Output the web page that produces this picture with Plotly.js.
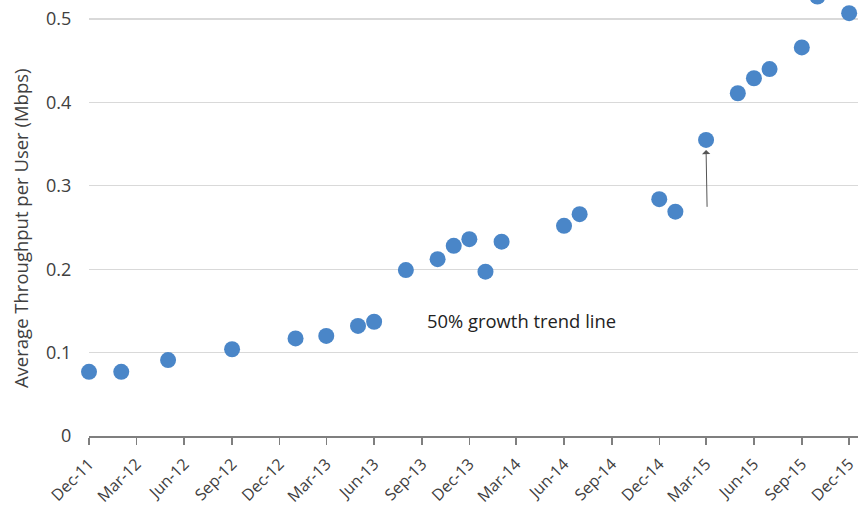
<!DOCTYPE html>
<html>
<head>
<meta charset="utf-8">
<script src="https://cdn.plot.ly/plotly-3.0.1.min.js"></script>
<style>html,body{margin:0;padding:0;background:#fff;overflow:hidden;}#chart{width:858px;height:532px;margin-top:-20px;}</style>
</head>
<body>
<div id="chart"></div>
<script>
const months = ["2011-12-01","2012-02-01","2012-05-01","2012-09-01","2013-01-01","2013-03-01","2013-05-01","2013-06-01","2013-08-01","2013-10-01","2013-11-01","2013-12-01","2014-01-01","2014-02-01","2014-06-01","2014-07-01","2014-12-01","2015-01-01","2015-03-01","2015-05-01","2015-06-01","2015-07-01","2015-09-01","2015-10-01","2015-12-01"];
const throughput = [0.077,0.077,0.091,0.104,0.117,0.120,0.132,0.137,0.199,0.212,0.228,0.236,0.197,0.233,0.252,0.266,0.284,0.269,0.355,0.411,0.429,0.440,0.466,0.527,0.507];
const annotationText = "50% growth trend line";
const yTitle = "Average Throughput per User (Mbps)";

const font = "Open Sans, Liberation Sans, sans-serif";
const data = [{
  x: months, y: throughput, type: "scatter", mode: "markers",
  marker: {color: "#4a86c8", size: 16},
  cliponaxis: false, hoverinfo: "skip"
}];
const layout = {
  width: 858, height: 532,
  margin: {l: 89, r: 0, t: 0, b: 76},
  paper_bgcolor: "#fff", plot_bgcolor: "#fff",
  showlegend: false,
  font: {family: font, color: "#404040", size: 16},
  xaxis: {
    type: "date", range: ["2011-12-01", "2015-12-18"],
    tickformat: "%b-%y", dtick: "M3", tick0: "2011-12-01",
    tickangle: -45, tickfont: {size: 16, color: "#404040"},
    ticklabeloverflow: "allow", ticklabelstandoff: 4,
    ticks: "outside", ticklen: 7, tickcolor: "#7f7f7f", tickwidth: 1.5,
    showline: true, linecolor: "#7f7f7f", linewidth: 1.5,
    showgrid: false, zeroline: false, automargin: false
  },
  yaxis: {
    range: [0, 0.5468], dtick: 0.1, tick0: 0,
    tickfont: {size: 18, color: "#404040"},
    ticks: "outside", ticklen: 13, tickcolor: "rgba(0,0,0,0)",
    showgrid: true, gridcolor: "#d9d9d9", gridwidth: 1.3,
    zeroline: false, showline: false, automargin: false
  },
  annotations: [
    {x: -0.0897, y: 0.456, xref: "paper", yref: "paper", text: yTitle, textangle: -90,
     showarrow: false, xanchor: "center", yanchor: "middle",
     font: {size: 18.5, color: "#404040"}},
    {x: "2014-03-12", y: 0.139, xref: "x", yref: "y", text: annotationText, showarrow: false,
     font: {size: 18.4, color: "#222"}},
    {x: "2015-03-01", y: 0.343, xref: "x", yref: "y", ax: "2015-03-03", ay: 0.273, axref: "x", ayref: "y",
     text: "", showarrow: true, arrowhead: 1, arrowsize: 1.4, arrowwidth: 1, arrowcolor: "#555"}
  ]
};
Plotly.newPlot("chart", data, layout, {displayModeBar: false, staticPlot: true});
</script>
</body>
</html>
